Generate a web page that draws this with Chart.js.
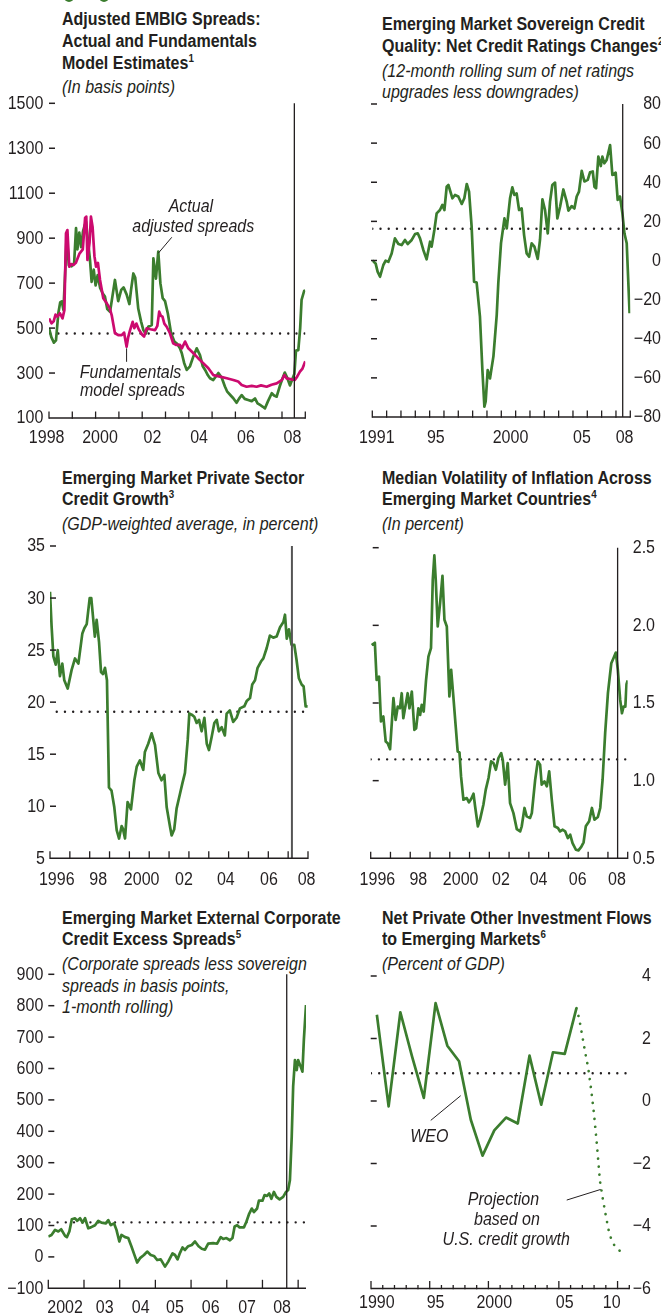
<!DOCTYPE html>
<html>
<head>
<meta charset="utf-8">
<script src="https://cdn.jsdelivr.net/npm/chart.js@4.4.1/dist/chart.umd.min.js"></script>
<style>
  html, body { margin: 0; padding: 0; background: #fff; }
  body { width: 661px; height: 1316px; position: relative; overflow: hidden;
         font-family: "Liberation Sans", Arial, sans-serif; color: #231f20; }
  .ttl { position: absolute; font-weight: bold; font-size: 18px; line-height: 21.6px; white-space: nowrap;
         transform: scaleX(0.89); transform-origin: 0 0; }
  .ttl .sub { font-weight: normal; font-style: italic; margin-top: 3px; }
  .ttl sup { font-size: 11px; line-height: 0; vertical-align: 7px; }
  canvas { position: absolute; }
  .bullet { position: absolute; width: 10px; height: 10px; border-radius: 50%; background: #3b7d2e; top: -8.5px; }
</style>
</head>
<body>
<div class="bullet" style="left:63.5px"></div>
<div class="bullet" style="left:98.5px"></div>

<div class="ttl" style="left:62px;top:9.4px">Adjusted EMBIG Spreads:<br>Actual and Fundamentals<br>Model Estimates<sup>1</sup><div class="sub">(In basis points)</div></div>
<div class="ttl" style="left:381.7px;top:14.4px">Emerging Market Sovereign Credit<br>Quality: Net Credit Ratings Changes<sup>2</sup><div class="sub">(12-month rolling sum of net ratings<br>upgrades less downgrades)</div></div>
<div class="ttl" style="left:62px;top:467.8px">Emerging Market Private Sector<br>Credit Growth<sup>3</sup><div class="sub">(GDP-weighted average, in percent)</div></div>
<div class="ttl" style="left:381.7px;top:467.8px">Median Volatility of Inflation Across<br>Emerging Market Countries<sup>4</sup><div class="sub">(In percent)</div></div>
<div class="ttl" style="left:62px;top:907.8px">Emerging Market External Corporate<br>Credit Excess Spreads<sup>5</sup><div class="sub">(Corporate spreads less sovereign<br>spreads in basis points,<br>1-month rolling)</div></div>
<div class="ttl" style="left:381.7px;top:907.8px">Net Private Other Investment Flows<br>to Emerging Markets<sup>6</sup><div class="sub">(Percent of GDP)</div></div>

<script>
// ---- series: [year, value] ----
const embigActual = [
  [1998.00,500],[1998.10,460],[1998.21,435],[1998.30,445],[1998.40,566],[1998.48,614],[1998.55,619],[1998.62,580],
  [1998.70,760],[1998.76,920],[1998.85,780],[1998.97,775],[1999.08,790],[1999.16,945],[1999.22,850],[1999.30,925],
  [1999.38,860],[1999.46,930],[1999.54,960],[1999.59,973],[1999.66,900],[1999.76,802],[1999.83,706],[1999.92,760],
  [2000.00,690],[2000.09,736],[2000.19,680],[2000.30,655],[2000.40,640],[2000.50,585],[2000.62,573],[2000.72,640],
  [2000.83,714],[2000.97,620],[2001.10,670],[2001.20,681],[2001.33,650],[2001.45,607],[2001.52,669],[2001.62,743],
  [2001.70,725],[2001.83,587],[2001.95,530],[2002.05,491],[2002.15,475],[2002.26,506],[2002.41,514],[2002.48,810],
  [2002.59,720],[2002.69,840],[2002.78,700],[2002.88,633],[2002.98,620],[2003.10,565],[2003.24,477],[2003.38,440],
  [2003.50,430],[2003.62,410],[2003.70,388],[2003.80,345],[2003.91,314],[2004.05,330],[2004.20,375],[2004.34,410],
  [2004.48,380],[2004.60,330],[2004.70,314],[2004.82,290],[2004.91,277],[2005.05,269],[2005.27,300],[2005.41,280],
  [2005.55,240],[2005.65,217],[2005.80,200],[2005.91,188],[2006.05,168],[2006.15,185],[2006.27,202],[2006.40,185],
  [2006.55,180],[2006.70,175],[2006.84,187],[2006.95,165],[2007.06,158],[2007.18,150],[2007.27,143],[2007.40,175],
  [2007.56,210],[2007.66,200],[2007.77,195],[2007.90,240],[2008.00,270],[2008.12,302],[2008.22,280],[2008.34,245],
  [2008.45,275],[2008.53,296],[2008.60,400],[2008.70,402],[2008.78,500],[2008.84,625],[2008.95,665],[2009.00,668]
];
const embigModel = [
  [1998.00,543],[1998.11,521],[1998.20,530],[1998.28,560],[1998.36,551],[1998.47,566],[1998.58,543],[1998.66,580],
  [1998.73,922],[1998.79,936],[1998.87,773],[1998.95,785],[1999.05,780],[1999.15,790],[1999.30,830],[1999.45,850],
  [1999.55,990],[1999.60,996],[1999.65,803],[1999.74,880],[1999.80,996],[1999.87,950],[1999.95,820],[2000.02,773],
  [2000.10,790],[2000.19,714],[2000.33,633],[2000.48,610],[2000.60,590],[2000.69,558],[2000.83,477],[2000.97,469],
  [2001.12,469],[2001.22,480],[2001.33,417],[2001.40,460],[2001.48,491],[2001.59,528],[2001.66,500],[2001.75,520],
  [2001.85,495],[2002.00,470],[2002.08,462],[2002.19,499],[2002.35,495],[2002.55,491],[2002.65,510],[2002.73,573],
  [2002.80,555],[2002.87,551],[2002.95,520],[2003.05,506],[2003.19,477],[2003.33,432],[2003.45,425],[2003.62,425],
  [2003.70,410],[2003.84,440],[2003.98,410],[2004.20,388],[2004.41,365],[2004.63,343],[2004.84,321],[2005.05,291],
  [2005.34,284],[2005.63,277],[2005.91,269],[2006.12,262],[2006.27,247],[2006.48,239],[2006.70,243],[2006.91,239],
  [2007.10,245],[2007.34,239],[2007.55,248],[2007.77,254],[2007.99,269],[2008.10,291],[2008.20,276],[2008.41,272],
  [2008.55,269],[2008.65,284],[2008.77,306],[2008.88,320],[2009.00,352]
];
const ratingsNet = [
  [1991.00,0],[1991.23,-1.5],[1991.37,-5.7],[1991.54,-8.3],[1991.77,-2.3],[1991.93,-0.1],[1992.12,-0.7],[1992.35,3.6],
  [1992.58,11.3],[1992.82,8.4],[1993.05,7.9],[1993.28,10.5],[1993.47,8.4],[1993.75,10.5],[1993.98,13.5],[1994.17,13.9],
  [1994.33,11.3],[1994.56,5.4],[1994.79,0.6],[1995.03,9.6],[1995.14,7.1],[1995.33,15.6],[1995.49,24.1],[1995.72,25.8],
  [1995.89,28.4],[1996.03,25.8],[1996.19,37.7],[1996.31,38.6],[1996.59,31.8],[1996.77,33.5],[1997.00,32.7],[1997.24,28.9],
  [1997.42,31.8],[1997.59,39.1],[1997.75,35.2],[1997.93,17.3],[1998.10,-10.8],[1998.28,-11.3],[1998.51,-28.7],[1998.68,-56],
  [1998.82,-74.7],[1998.91,-72],[1999.05,-56],[1999.21,-60.3],[1999.45,-49],[1999.68,-27.9],[1999.79,-11.6],[1999.98,8.9],
  [2000.22,21.5],[2000.38,16.4],[2000.61,31.8],[2000.77,37.4],[2000.91,33.5],[2001.07,34.3],[2001.24,25.8],[2001.42,26.6],
  [2001.59,13],[2001.77,3.6],[2001.94,1.9],[2002.12,8.8],[2002.31,7.1],[2002.54,0.8],[2002.70,10.5],[2002.87,31.3],
  [2003.05,25.8],[2003.24,13.9],[2003.40,30.1],[2003.56,38.6],[2003.75,39.8],[2003.91,21.5],[2004.10,27.5],[2004.33,36.3],
  [2004.56,30.1],[2004.68,25.5],[2004.91,27.8],[2005.10,26.6],[2005.26,32.7],[2005.42,35.2],[2005.61,45.8],[2005.80,40.4],
  [2006.03,41.2],[2006.19,45.1],[2006.38,45.5],[2006.50,37.7],[2006.61,36.9],[2006.77,53.1],[2006.94,48.3],[2007.05,53.1],
  [2007.19,49.7],[2007.35,51.4],[2007.59,59],[2007.75,43.7],[2007.98,44.9],[2008.12,31],[2008.28,32.7],[2008.45,24.1],
  [2008.59,13.9],[2008.75,8.8],[2008.95,-27]
];
const creditGrowth = [
  [1996.00,30.6],[1996.08,27.3],[1996.17,24.4],[1996.29,23.6],[1996.39,25.0],[1996.50,22.5],[1996.62,23.7],[1996.72,22.1],
  [1996.89,21.3],[1997.09,23.1],[1997.26,24.2],[1997.43,23.7],[1997.63,26.6],[1997.73,27.1],[1997.85,27.5],[1998.00,30.0],
  [1998.08,30.0],[1998.26,26.3],[1998.35,27.9],[1998.47,25.8],[1998.57,22.9],[1998.67,22.7],[1998.77,23.3],[1998.87,22.1],
  [1998.97,11.8],[1999.10,11.5],[1999.24,9.9],[1999.36,7.7],[1999.48,6.9],[1999.61,8.1],[1999.68,7.8],[1999.78,6.9],
  [1999.91,10.4],[2000.08,9.7],[2000.25,12.5],[2000.37,13.8],[2000.53,14.4],[2000.70,13.5],[2000.78,15.2],[2000.95,16.0],
  [2001.12,17.0],[2001.29,15.9],[2001.46,13.2],[2001.62,12.5],[2001.76,13.0],[2001.88,9.9],[2002.05,8.0],[2002.13,7.2],
  [2002.26,7.8],[2002.38,9.8],[2002.55,11.2],[2002.67,12.2],[2002.80,13.2],[2002.94,16.4],[2003.02,18.9],[2003.14,18.8],
  [2003.27,18.6],[2003.39,18.0],[2003.51,18.3],[2003.64,17.2],[2003.78,18.5],[2003.90,16.0],[2004.01,15.4],[2004.15,16.7],
  [2004.28,18.0],[2004.40,18.3],[2004.51,17.2],[2004.65,17.6],[2004.81,16.8],[2004.90,18.9],[2005.06,19.2],[2005.23,18.1],
  [2005.40,18.5],[2005.57,19.4],[2005.79,19.6],[2005.91,20.1],[2006.08,20.4],[2006.19,21.7],[2006.33,22.1],[2006.46,23.3],
  [2006.63,23.9],[2006.75,24.2],[2006.92,25.2],[2007.08,26.4],[2007.25,26.2],[2007.42,26.3],[2007.59,27.2],[2007.76,27.7],
  [2007.84,28.4],[2007.93,26.1],[2008.04,27.0],[2008.17,25.5],[2008.31,25.5],[2008.42,24.1],[2008.54,22.3],[2008.68,21.7],
  [2008.78,21.5],[2008.88,19.6],[2008.98,19.6]
];
const inflationVol = [
  [1996.05,1.873],[1996.21,1.888],[1996.30,1.648],[1996.42,1.670],[1996.52,1.381],[1996.64,1.413],[1996.76,1.252],[1996.86,1.241],
  [1996.98,1.203],[1997.15,1.531],[1997.26,1.391],[1997.37,1.477],[1997.48,1.466],[1997.57,1.563],[1997.65,1.402],[1997.87,1.563],
  [1997.96,1.466],[1998.08,1.574],[1998.21,1.327],[1998.30,1.338],[1998.41,1.466],[1998.50,1.423],[1998.58,1.488],[1998.68,1.445],
  [1998.80,1.648],[1998.92,1.799],[1999.05,1.853],[1999.14,2.293],[1999.22,2.45],[1999.29,2.293],[1999.39,1.993],[1999.51,2.143],
  [1999.63,2.319],[1999.73,2.036],[1999.85,1.993],[1999.93,1.714],[1999.98,1.542],[2000.07,1.714],[2000.18,1.542],[2000.30,1.349],
  [2000.40,1.188],[2000.49,1.182],[2000.57,1.027],[2000.69,0.877],[2000.86,0.888],[2000.97,0.860],[2001.08,0.882],[2001.20,0.916],
  [2001.28,0.835],[2001.42,0.706],[2001.53,0.749],[2001.70,0.845],[2001.82,0.942],[2001.96,1.017],[2002.09,1.124],[2002.21,1.113],
  [2002.33,1.070],[2002.46,1.145],[2002.60,1.177],[2002.68,1.134],[2002.80,0.974],[2002.93,1.113],[2003.05,0.855],[2003.22,0.791],
  [2003.39,0.688],[2003.56,0.673],[2003.64,0.706],[2003.78,0.824],[2003.89,0.770],[2004.06,0.760],[2004.15,0.791],[2004.32,1.006],
  [2004.45,1.124],[2004.57,1.102],[2004.65,0.974],[2004.79,0.995],[2004.91,0.963],[2005.03,1.060],[2005.16,0.877],[2005.30,0.706],
  [2005.47,0.695],[2005.58,0.673],[2005.70,0.684],[2005.84,0.673],[2005.97,0.630],[2006.09,0.652],[2006.21,0.598],[2006.38,0.555],
  [2006.51,0.551],[2006.65,0.573],[2006.77,0.603],[2006.88,0.706],[2007.05,0.738],[2007.19,0.824],[2007.32,0.749],[2007.49,0.766],
  [2007.61,0.824],[2007.73,1.006],[2007.86,1.306],[2008.00,1.563],[2008.17,1.756],[2008.28,1.788],[2008.40,1.825],[2008.50,1.714],
  [2008.62,1.520],[2008.71,1.434],[2008.79,1.477],[2008.88,1.477],[2008.94,1.622],[2009.00,1.645]
];
const corpExcess = [
  [2002.00,65],[2002.09,70],[2002.19,86],[2002.28,81],[2002.36,88],[2002.47,67],[2002.52,63],[2002.59,81],[2002.66,120],
  [2002.75,123],[2002.81,115],[2002.89,123],[2002.96,109],[2003.03,123],[2003.12,91],[2003.19,94],[2003.31,101],[2003.40,115],
  [2003.49,109],[2003.61,107],[2003.68,117],[2003.75,101],[2003.84,107],[2003.91,86],[2003.99,49],[2004.05,70],[2004.15,63],
  [2004.24,60],[2004.33,33],[2004.43,1],[2004.49,-18],[2004.57,-4],[2004.68,6],[2004.77,17],[2004.87,6],[2004.96,3],
  [2005.05,-10],[2005.15,-8],[2005.27,-31],[2005.36,-15],[2005.48,11],[2005.55,6],[2005.62,-8],[2005.69,13],[2005.76,30],
  [2005.83,22],[2005.92,34],[2006.02,38],[2006.11,49],[2006.21,34],[2006.30,26],[2006.39,23],[2006.48,42],[2006.62,44],
  [2006.73,42],[2006.83,63],[2006.90,57],[2006.99,60],[2007.09,53],[2007.16,60],[2007.22,97],[2007.29,101],[2007.36,94],
  [2007.48,94],[2007.55,112],[2007.63,138],[2007.70,154],[2007.76,143],[2007.85,154],[2007.90,179],[2008.00,179],[2008.06,197],
  [2008.13,194],[2008.19,202],[2008.25,185],[2008.32,207],[2008.39,191],[2008.48,183],[2008.58,191],[2008.66,207],[2008.72,213],
  [2008.77,245],[2008.82,383],[2008.86,542],[2008.91,627],[2008.96,595],[2009.00,627],[2009.07,606],[2009.12,590],[2009.16,691],
  [2009.22,802]
];
const flowsWEO = [
  [1990,2.76],[1991,-0.17],[1992,2.84],[1993,1.42],[1994,0.10],[1995,3.13],[1996,1.77],[1997,1.27],[1998,-0.60],
  [1999,-1.75],[2000,-0.94],[2001,-0.53],[2002,-0.72],[2003,1.45],[2004,-0.12],[2005,1.56],[2006,1.51],[2007,2.97]
];
const flowsProjection = [
  [2007,2.97],[2007.25,2.60],[2007.5,2.07],[2007.75,1.54],[2008,1.06],[2008.25,0.37],[2008.5,-0.43],[2008.75,-1.44],
  [2009,-2.56],[2009.25,-3.14],[2009.5,-3.67],[2009.75,-4.15],[2010,-4.47],[2010.25,-4.63],[2010.5,-4.74],[2010.75,-4.81],[2011,-4.87]
];

// ---- tick labels ----
const embigYLabels = ['1500','1300','1100','900','700','500','300','100'];
const embigXLabels = ['1998','2000','02','04','06','08'];
const embigXLabelAt = [1997.9, 2000.19, 2002.44, 2004.44, 2006.45, 2008.45];
const ratingsYLabels = ['80','60','40','20','0','\u221220','\u221240','\u221260','\u221280'];
const ratingsXLabels = ['1991','95','2000','05','08'];
const ratingsXLabelAt = [1991.31, 1995.43, 2000.64, 2005.63, 2008.6];
const creditYLabels = ['35','30','25','20','15','10','5'];
const creditXLabels = ['1996','98','2000','02','04','06','08'];
const creditXLabelAt = [1996.34, 1998.43, 2000.62, 2002.75, 2004.86, 2007.03, 2008.93];
const inflYLabels = ['2.5','2.0','1.5','1.0','0.5'];
const inflXLabels = ['1996','98','2000','02','04','06','08'];
const inflXLabelAt = [1996.34, 1998.41, 2000.55, 2002.59, 2004.49, 2006.47, 2008.46];
const corpYLabels = ['900','800','700','600','500','400','300','200','100','0','\u2212100'];
const corpXLabels = ['2002','03','04','05','06','07','08'];
const corpXLabelAt = [2002.47, 2003.58, 2004.59, 2005.55, 2006.55, 2007.57, 2008.55];
const flowsYLabels = ['4','2','0','\u22122','\u22124','\u22126'];
const flowsXLabels = ['1990','95','2000','05','10'];
const flowsXLabelAt = [1990, 1995, 2000, 2006, 2010];

// ---- historical averages ----
const embigAverage = 476, ratingsAverage = 16.2, creditAverage = 19.08,
      inflAverage = 1.137, corpAverage = 110, flowsAverage = 0.89;

const INK = '#231f20';
const GREEN = '#3b7d2e';
const MAGENTA = '#cc0a6f';
const FACE = '"Liberation Sans", Arial, sans-serif';
const TICK_FONT = '18px ' + FACE;
const NOTE_FONT = 'italic 18px ' + FACE;
const SQUEEZE = 0.89;   // narrow the sans face to a condensed look

const range = (a, b, step) => { const out = []; for (let v = a; v <= b + 1e-9; v += step) out.push(+v.toFixed(4)); return out; };

function stroke(ctx, x1, y1, x2, y2) {
  ctx.beginPath(); ctx.moveTo(x1, y1); ctx.lineTo(x2, y2); ctx.stroke();
}
function label(ctx, str, x, y) {
  ctx.save(); ctx.translate(x, y); ctx.scale(SQUEEZE, 1); ctx.fillText(str, 0, 0); ctx.restore();
}

// axes in the report style: baseline with upward ticks, short inner dashes, labels beside
const panelAxes = {
  id: 'panelAxes',
  afterDatasetsDraw(chart, args, o) {
    const { ctx, chartArea: a, scales: { x, y } } = chart;
    const px = v => x.getPixelForValue(v), py = v => y.getPixelForValue(v);
    ctx.save();
    ctx.lineCap = 'butt';

    if (o.marker != null) {
      ctx.strokeStyle = o.markerColor || INK;
      ctx.lineWidth = o.markerWidth || 1.3;
      stroke(ctx, px(o.marker), a.top, px(o.marker), a.bottom);
    }

    ctx.strokeStyle = INK; ctx.fillStyle = INK;
    const base = a.bottom;
    ctx.lineWidth = 1.4;
    stroke(ctx, a.left, base, a.right, base);
    ctx.lineWidth = 1.3;
    o.xTicks.forEach(v => {
      const len = o.tall && o.tall.includes(v) ? o.tallLen : o.tickLen;
      stroke(ctx, px(v), base + 0.7, px(v), base - len);
    });

    ctx.lineWidth = 1.5;
    const d0 = a.left + (o.dashOffset || 0);
    o.dashes.forEach(v => stroke(ctx, d0, py(v), d0 + 6, py(v)));

    ctx.font = TICK_FONT;
    ctx.textBaseline = 'middle';
    ctx.textAlign = 'center';
    o.xLabelAt.forEach((v, i) => label(ctx, o.xLabels[i], px(v), base + o.labelGap));
    ctx.textAlign = 'right';
    const lx = o.side === 'right' ? a.right + o.labelOffset : a.left - o.labelOffset;
    o.yTicks.forEach((v, i) => label(ctx, o.yLabels[i], lx, py(v) + 0.5));

    ctx.font = NOTE_FONT;
    ctx.textAlign = 'center';
    (o.notes || []).forEach(n => label(ctx, n.text, px(n.at[0]), py(n.at[1])));
    ctx.lineWidth = 1;
    (o.leaders || []).forEach(l => stroke(ctx, px(l[0]), py(l[1]), px(l[2]), py(l[3])));
    ctx.restore();
  }
};

const solid = (data, color) => ({ data, borderColor: color, borderWidth: 2.7, pointRadius: 0, fill: false });
const dots = (data, color, gap, width) => ({ data, borderColor: color, borderWidth: width, borderDash: [0.01, gap],
  borderCapStyle: 'round', pointRadius: 0, fill: false });

const panels = [
  { canvas: [0, 95, 330, 360], plot: [49, 103.3, 305.3, 418], x: [1998, 2009], y: [100, 1500],
    datasets: [solid(embigModel, MAGENTA), solid(embigActual, GREEN),
               dots([[1998.05, embigAverage], [2009, embigAverage]], INK, 8.2, 2.4)],
    axes: { xTicks: range(1998, 2009, 1), tickLen: 6.5, xLabels: embigXLabels, xLabelAt: embigXLabelAt, labelGap: 20.5,
      yTicks: range(100, 1500, 200).reverse(), yLabels: embigYLabels, side: 'left', labelOffset: 5.7,
      dashes: range(300, 1500, 200), marker: 2008.53,
      notes: [{ text: 'Actual', at: [2004.09, 1039] }, { text: 'adjusted spreads', at: [2004.19, 950] },
              { text: 'Fundamentals', at: [2001.5, 302] }, { text: 'model spreads', at: [2001.58, 220] }],
      leaders: [[2003.27, 904, 2002.69, 833], [2001.33, 350, 2001.33, 410]] } },

  { canvas: [330, 95, 331, 360], plot: [372.3, 104, 630.3, 417], x: [1991, 2009], y: [-80, 80],
    datasets: [solid(ratingsNet, GREEN), dots([[1991, ratingsAverage], [2009.1, ratingsAverage]], INK, 8.2, 2.4)],
    axes: { xTicks: range(1991, 2009, 1), tickLen: 6.5, xLabels: ratingsXLabels, xLabelAt: ratingsXLabelAt, labelGap: 21.5,
      yTicks: range(-80, 80, 20).reverse(), yLabels: ratingsYLabels, side: 'right', labelOffset: 30.7,
      dashes: range(-60, 80, 20), dashOffset: -1.3, marker: 2008.47 } },

  { canvas: [0, 535, 330, 360], plot: [50, 546, 308, 858.3], x: [1996, 2009], y: [5, 35],
    datasets: [solid(creditGrowth, GREEN), dots([[1996.34, creditAverage], [2009, creditAverage]], INK, 8.2, 2.4)],
    axes: { xTicks: range(1996, 2009, 1), tickLen: 7, xLabels: creditXLabels, xLabelAt: creditXLabelAt, labelGap: 22,
      yTicks: range(5, 35, 5).reverse(), yLabels: creditYLabels, side: 'left', labelOffset: 5,
      dashes: range(10, 35, 5), marker: 2008.19, markerColor: '#555', markerWidth: 2 } },

  { canvas: [330, 535, 331, 360], plot: [370.7, 547.7, 627.7, 858.3], x: [1996, 2009], y: [0.5, 2.5],
    datasets: [solid(inflationVol, GREEN), dots([[1996, inflAverage], [2009.1, inflAverage]], INK, 8.2, 2.4)],
    axes: { xTicks: range(1996, 2009, 1), tickLen: 6.5, xLabels: inflXLabels, xLabelAt: inflXLabelAt, labelGap: 22,
      yTicks: range(0.5, 2.5, 0.5).reverse(), yLabels: inflYLabels, side: 'right', labelOffset: 27.3,
      dashes: range(1, 2.5, 0.5), dashOffset: 2, marker: 2008.49 } },

  { canvas: [0, 960, 330, 356], plot: [48.3, 974.3, 306, 1288.3], x: [2002, 2009.22], y: [-100, 900],
    datasets: [solid(corpExcess, GREEN), dots([[2002.03, corpAverage], [2009.22, corpAverage]], INK, 8.2, 2.4)],
    axes: { xTicks: range(2002, 2009, 1), tickLen: 8.5, xLabels: corpXLabels, xLabelAt: corpXLabelAt, labelGap: 19.5,
      yTicks: range(-100, 900, 100).reverse(), yLabels: corpYLabels, side: 'left', labelOffset: 5,
      dashes: range(0, 900, 100), marker: 2008.68 } },

  { canvas: [330, 960, 331, 356], plot: [371, 976, 629.3, 1288.5], x: [1989.5, 2011.5], y: [-6, 4],
    datasets: [solid(flowsWEO, GREEN), dots(flowsProjection, GREEN, 8, 2.7),
               dots([[1989.5, flowsAverage], [2011.6, flowsAverage]], INK, 8.2, 2.4)],
    axes: { xTicks: range(1989.5, 2011.5, 1), tickLen: 3.5, tall: [1989.5, 1994.5, 1999.5, 2005.5, 2010.5], tallLen: 7.5,
      xLabels: flowsXLabels, xLabelAt: flowsXLabelAt, labelGap: 14.5,
      yTicks: range(-6, 4, 2).reverse(), yLabels: flowsYLabels, side: 'right', labelOffset: 21.7,
      dashes: range(-4, 4, 2), dashOffset: -0.3,
      notes: [{ text: 'WEO', at: [1994.47, -1.15] }, { text: 'Projection', at: [2000.78, -3.17] },
              { text: 'based on', at: [2001.08, -3.81] }, { text: 'U.S. credit growth', at: [2001.02, -4.45] }],
      leaders: [[1994.59, -0.62, 1997.14, 0.17], [2006.17, -3.17, 2009.06, -2.83]] } }
];

panels.forEach(p => {
  const [cl, ct, cw, ch] = p.canvas;
  const [pl, pt, pr, pb] = p.plot;
  const cv = document.createElement('canvas');
  cv.width = cw; cv.height = ch;
  Object.assign(cv.style, { left: cl + 'px', top: ct + 'px', width: cw + 'px', height: ch + 'px' });
  document.body.appendChild(cv);
  new Chart(cv, {
    type: 'line',
    data: { datasets: p.datasets },
    options: {
      responsive: false, animation: false, devicePixelRatio: 1,
      layout: { padding: { left: pl - cl, top: pt - ct, right: cl + cw - pr, bottom: ct + ch - pb } },
      scales: {
        x: { type: 'linear', display: false, min: p.x[0], max: p.x[1] },
        y: { type: 'linear', display: false, min: p.y[0], max: p.y[1] }
      },
      elements: { line: { tension: 0, borderJoinStyle: 'round' }, point: { radius: 0 } },
      plugins: { legend: { display: false }, tooltip: { enabled: false }, panelAxes: p.axes }
    },
    plugins: [panelAxes]
  });
});
</script>
</body>
</html>
